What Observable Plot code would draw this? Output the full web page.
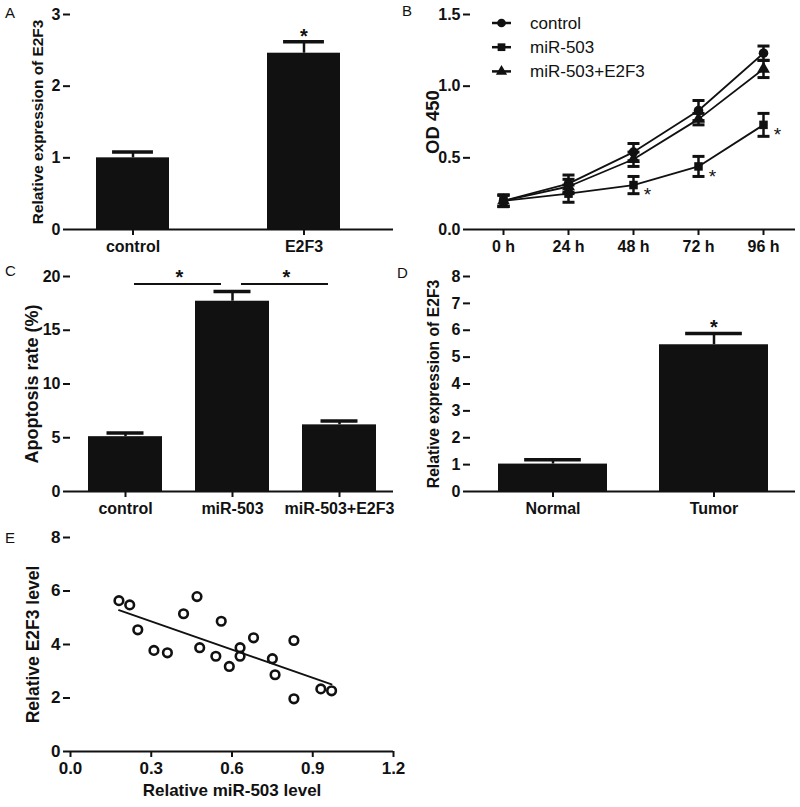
<!DOCTYPE html>
<html><head><meta charset="utf-8">
<script src="https://cdn.jsdelivr.net/npm/d3@7"></script>
<script src="https://cdn.jsdelivr.net/npm/@observablehq/plot@0.6"></script>
<style>
body{margin:0;background:#fff;}
#fig{position:relative;width:800px;height:807px;font-family:"Liberation Sans",Arial,Helvetica,sans-serif;background:#fff;overflow:hidden;color:#111}
.panel{position:absolute}
.letter{position:absolute;font-size:15px;line-height:1;color:#111}
</style></head><body><div id="fig"></div>
<script>
// ---------- DATA ----------
// Panel A
const aCategories = ["control", "E2F3"];
const aValues = [1.00, 2.46];
const aErrors = [0.08, 0.16];
const aSignificant = [false, true];

// Panel B
const bTimes = ["0 h", "24 h", "48 h", "72 h", "96 h"];
const bSeries = ["control", "miR-503", "miR-503+E2F3"];
const bControl = [0.20, 0.32, 0.54, 0.83, 1.23];
const bControlErr = [0.04, 0.06, 0.06, 0.07, 0.05];
const bMiR503 = [0.20, 0.25, 0.31, 0.44, 0.73];
const bMiR503Err = [0.04, 0.06, 0.06, 0.07, 0.08];
const bMiR503E2F3 = [0.20, 0.30, 0.49, 0.77, 1.12];
const bMiR503E2F3Err = [0.04, 0.05, 0.05, 0.04, 0.06];
const bMiR503Significant = [false, false, true, true, true];

// Panel C
const cCategories = ["control", "miR-503", "miR-503+E2F3"];
const cValues = [5.1, 17.7, 6.2];
const cErrors = [0.35, 0.9, 0.35];
const cComparisons = [["control", "miR-503"], ["miR-503", "miR-503+E2F3"]];
const cComparisonLevel = 19.3;

// Panel D
const dCategories = ["Normal", "Tumor"];
const dValues = [1.02, 5.46];
const dErrors = [0.16, 0.42];
const dSignificant = [false, true];

// Panel E
const eMiR503 = [0.18, 0.22, 0.25, 0.31, 0.36, 0.42, 0.47, 0.48, 0.54, 0.56, 0.59, 0.63, 0.63, 0.68, 0.75, 0.76, 0.83, 0.83, 0.93, 0.97];
const eE2F3 = [5.64, 5.48, 4.55, 3.78, 3.69, 5.15, 5.79, 3.88, 3.56, 4.87, 3.18, 3.88, 3.56, 4.25, 3.47, 2.87, 4.15, 1.97, 2.34, 2.27];

// ---------- HELPERS ----------
const FONT = "'Liberation Sans', Arial, Helvetica, sans-serif";
const INK = "#111";
const fig = document.getElementById("fig");

function place(node, left, top) {
  node.classList.add("panel");
  node.style.left = left + "px";
  node.style.top = top + "px";
  fig.appendChild(node);
}
function letter(t, left, top) {
  const s = document.createElement("div");
  s.className = "letter"; s.textContent = t;
  s.style.left = left + "px"; s.style.top = top + "px";
  fig.appendChild(s);
}
function bandGeometry(range, n, pi, po) {
  const step = (range[1] - range[0]) / (n - pi + 2 * po);
  return {step, bandwidth: step * (1 - pi)};
}
function yTitle(label, offset, size = 15.7) {
  return Plot.text([label], {text: d => d, frameAnchor: "left", rotate: -90, dx: -offset,
    fontSize: size, fontWeight: "bold", fill: INK, textAnchor: "middle", lineAnchor: "middle"});
}
const plotStyle = {fontFamily: FONT, fontSize: "16px", fontWeight: "bold", color: INK, background: "transparent", overflow: "visible"};
function axisY(ticks, fmt, size = 16) {
  return Plot.axisY({ticks, tickFormat: fmt ?? (d => String(d)), tickSize: 7, tickPadding: 3, strokeWidth: 2, line: true,
    label: null, fontSize: size, fontWeight: "bold"});
}
function axisX(opts = {}) {
  return Plot.axisX({tickSize: 6, tickPadding: 5, strokeWidth: 2, label: null, fontSize: 16, fontWeight: "bold", ...opts});
}
const capSymbol = {draw(ctx, size) { const r = Math.sqrt(size / Math.PI); ctx.moveTo(-r, 0); ctx.lineTo(r, 0); }};

function barPanel(o) {
  const data = o.cats.map((c, i) => ({cat: c, v: o.vals[i], hi: o.vals[i] + o.errs[i], sig: o.sig ? o.sig[i] : false}));
  const {step, bandwidth} = bandGeometry(o.xRange, o.cats.length, o.pi, o.po);
  const marks = [
    Plot.ruleX(data, {x: "cat", y1: "v", y2: "hi", stroke: INK, strokeWidth: 2.5}),
    Plot.barY(data, {x: "cat", y: "v", fill: INK}),
    Plot.tickY(data, {x: "cat", y: "hi", stroke: INK, strokeWidth: 3.5, insetLeft: bandwidth * o.cap, insetRight: bandwidth * o.cap}),
    Plot.text(data.filter(d => d.sig), {x: "cat", y: "hi", text: () => "*", fontSize: 20, fontWeight: "bold", dy: o.starDy, fill: INK}),
    Plot.ruleY([0], {stroke: INK, strokeWidth: 2}),
    axisY(o.yTicks),
    axisX(),
    yTitle(o.yLabel, o.titleOffset, o.titleSize),
    ...(o.extra ? o.extra(bandwidth, step) : [])
  ];
  return Plot.plot({
    width: 400, height: o.height,
    marginLeft: 70, marginRight: o.marginRight, marginTop: o.marginTop, marginBottom: o.marginBottom,
    style: plotStyle,
    x: {type: "band", domain: o.cats, range: o.xRange, paddingInner: o.pi, paddingOuter: o.po, axis: null},
    y: {domain: o.yDomain, axis: null},
    marks
  });
}

// ---------- PANEL A ----------
place(barPanel({
  cats: aCategories, vals: aValues, errs: aErrors, sig: aSignificant,
  height: 260, marginTop: 14, marginBottom: 31, marginRight: 7,
  xRange: [61.2, 374.3], pi: 0.574, po: 0.2, cap: 0.22, starDy: -5,
  yDomain: [0, 3], yTicks: [0, 1, 2, 3], yLabel: "Relative expression of E2F3", titleOffset: 32, titleSize: 15.4
}), 0, 0);
letter("A", 5, 5);

// ---------- PANEL B ----------
{
  const series = [bControl, bMiR503, bMiR503E2F3];
  const errs = [bControlErr, bMiR503Err, bMiR503E2F3Err];
  const data = [];
  bSeries.forEach((s, si) => bTimes.forEach((t, ti) => data.push({
    series: s, time: t, v: series[si][ti], lo: series[si][ti] - errs[si][ti], hi: series[si][ti] + errs[si][ti],
    sig: s === "miR-503" && bMiR503Significant[ti]
  })));
  const symbols = ["circle", "square", "triangle"];
  const p = Plot.plot({
    width: 400, height: 260, marginLeft: 70, marginRight: 5, marginTop: 14, marginBottom: 31,
    style: plotStyle,
    x: {type: "point", domain: bTimes, padding: 0.5, axis: null},
    y: {domain: [0, 1.5], axis: null},
    symbol: {domain: bSeries, range: symbols},
    marks: [
      Plot.line(data, {x: "time", y: "v", z: "series", stroke: INK, strokeWidth: 1.8}),
      Plot.ruleX(data, {x: "time", y1: "lo", y2: "hi", stroke: INK, strokeWidth: 2.5}),
      Plot.dot(data, {x: "time", y: "hi", symbol: capSymbol, r: 6, stroke: INK, strokeWidth: 3}),
      Plot.dot(data, {x: "time", y: "lo", symbol: capSymbol, r: 6, stroke: INK, strokeWidth: 3}),
      Plot.dot(data, {x: "time", y: "v", symbol: "series", r: 4.8, fill: INK, stroke: "none"}),
      Plot.text(data.filter(d => d.sig), {x: "time", y: "v", text: () => "*", dx: 14, dy: 10, fontSize: 19, fontWeight: "normal", fill: INK}),
      Plot.ruleY([0], {stroke: INK, strokeWidth: 2}),
      axisY([0, 0.5, 1, 1.5], ".1f"),
      axisX(),
      yTitle("OD 450", 37, 18.5)
    ]
  });
  place(p, 400, 0);
  // legend
  const lg = d3.create("svg").attr("width", 320).attr("height", 90)
    .style("position", "absolute").style("left", "400px").style("top", "0px");
  const symTypes = [d3.symbolCircle, d3.symbolSquare, d3.symbolTriangle];
  const rows = lg.selectAll("g").data(bSeries).join("g")
    .attr("transform", (d, i) => `translate(0,${23 + i * 24.2})`);
  rows.append("line").attr("x1", 92).attr("x2", 111).attr("stroke", INK).attr("stroke-width", 2.5);
  rows.append("path").attr("transform", "translate(101.5,0)")
    .attr("d", (d, i) => d3.symbol(symTypes[i], i === 2 ? 55 : 60)()).attr("fill", INK);
  rows.append("text").attr("x", 130).attr("dy", "0.35em").text(d => d)
    .attr("font-family", FONT).attr("font-size", 17).attr("fill", INK);
  fig.appendChild(lg.node());
  letter("B", 402, 3);
}

// ---------- PANEL C ----------
place(barPanel({
  cats: cCategories, vals: cValues, errs: cErrors,
  height: 270, marginTop: 16, marginBottom: 39, marginRight: 7,
  xRange: [70, 393], pi: 0.312, po: 0.157, cap: 0.25, starDy: -5,
  yDomain: [0, 20], yTicks: [0, 5, 10, 15, 20], yLabel: "Apoptosis rate (%)", titleOffset: 38, titleSize: 18,
  extra: (bw, step) => {
    const comps = cComparisons.map(([a, b]) => ({from: a, to: b, y: cComparisonLevel}));
    return [
      Plot.ruleY(comps, {x1: "from", x2: "to", y: "y", stroke: INK, strokeWidth: 2, insetLeft: bw / 2 + 9, insetRight: bw / 2 + 11}),
      Plot.text(comps, {x: "from", y: "y", text: () => "*", dx: step / 2, dy: -6, fontSize: 20, fontWeight: "bold", fill: INK})
    ];
  }
}), 0, 260);
letter("C", 5, 263);

// ---------- PANEL D ----------
place(barPanel({
  cats: dCategories, vals: dValues, errs: dErrors, sig: dSignificant,
  height: 270, marginTop: 16, marginBottom: 39, marginRight: 5,
  xRange: [70, 395], pi: 0.326, po: 0.168, cap: 0.24, starDy: -6,
  yDomain: [0, 8], yTicks: [0, 1, 2, 3, 4, 5, 6, 7, 8], yLabel: "Relative expression of E2F3", titleOffset: 37, titleSize: 15.7
}), 400, 260);
letter("D", 397, 265);

// ---------- PANEL E ----------
{
  const pts = eMiR503.map((x, i) => ({x, y: eE2F3[i]}));
  const p = Plot.plot({
    width: 400, height: 277, marginLeft: 70, marginRight: 7, marginTop: 7, marginBottom: 56,
    style: plotStyle,
    x: {domain: [0, 1.2], axis: null},
    y: {domain: [0, 8], axis: null},
    marks: [
      Plot.linearRegressionY(pts, {x: "x", y: "y", ci: 0, stroke: INK, strokeWidth: 1.8}),
      Plot.dot(pts, {x: "x", y: "y", r: 4.3, stroke: INK, strokeWidth: 2.6, fill: "none"}),
      Plot.ruleY([0], {stroke: INK, strokeWidth: 2}),
      axisY([0, 2, 4, 6, 8], undefined, 17),
      axisX({ticks: [0, 0.3, 0.6, 0.9, 1.2], tickFormat: ".1f", fontSize: 17, tickPadding: 4}),
      yTitle("Relative E2F3 level", 37, 17.5),
      Plot.text(["Relative miR-503 level"], {text: d => d, frameAnchor: "bottom", dy: 44, fontSize: 17, fontWeight: "bold", fill: INK})
    ]
  });
  place(p, 0, 530);
  letter("E", 5, 530);
}
</script></body></html>
